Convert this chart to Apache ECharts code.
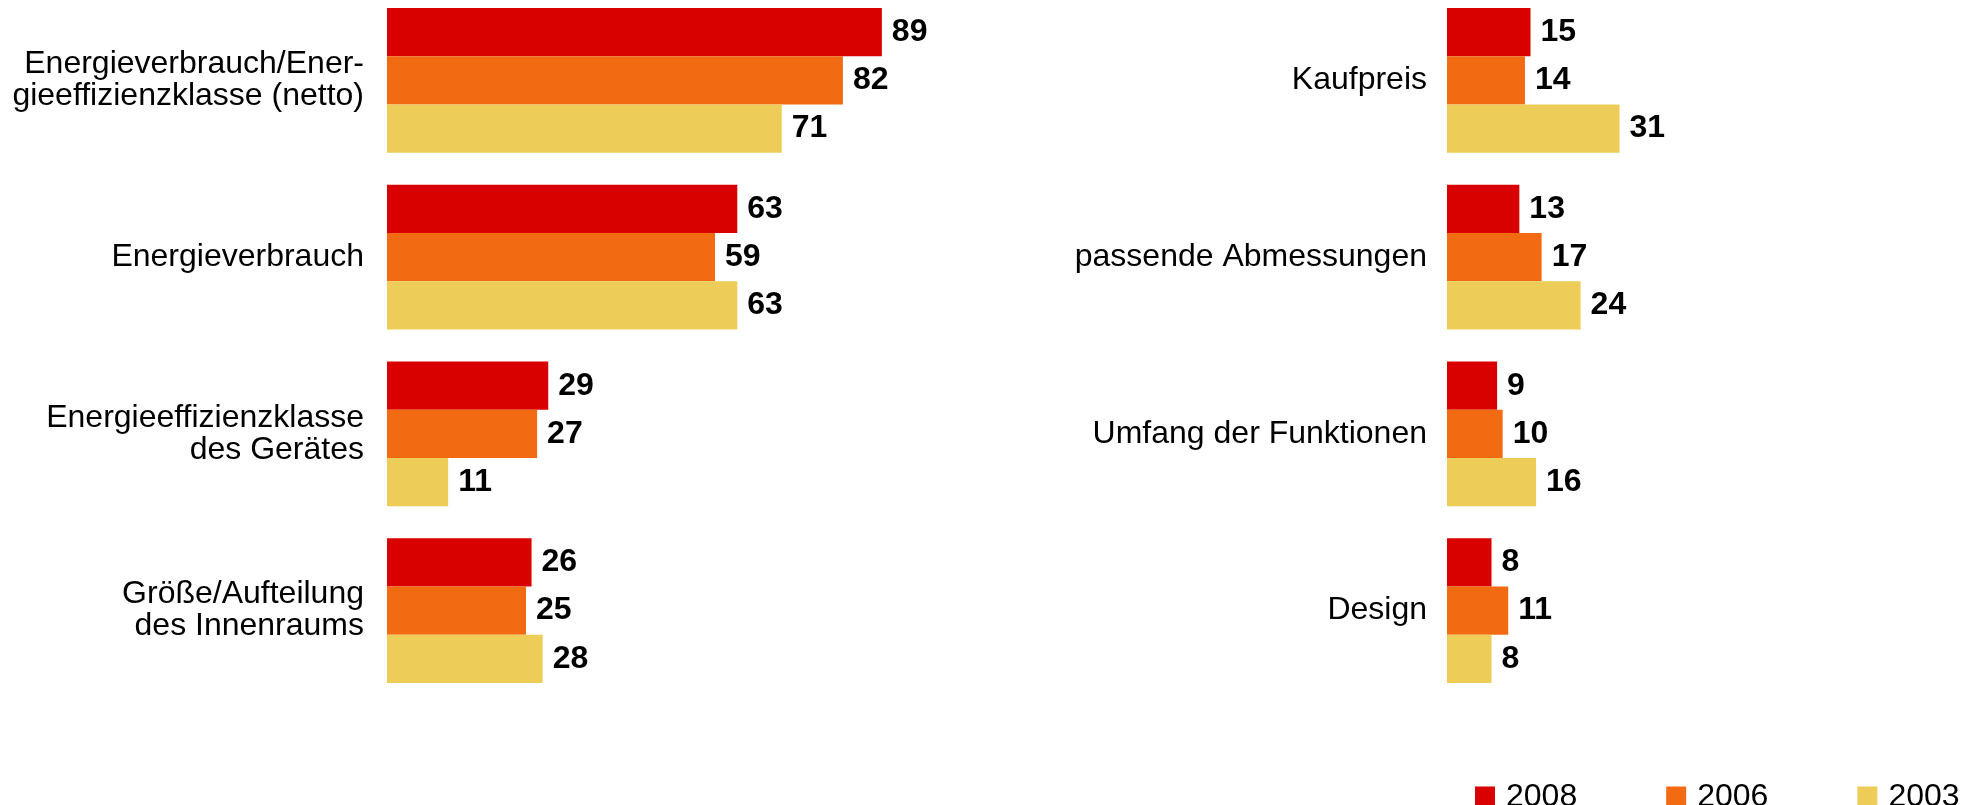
<!DOCTYPE html>
<html>
<head>
<meta charset="utf-8">
<script src="https://cdn.jsdelivr.net/npm/echarts@6/dist/echarts.min.js"></script>
<style>
  html, body { margin: 0; padding: 0; background: #fff; }
  #chart { width: 1984px; height: 805px; }
</style>
</head>
<body>
<div id="chart"></div>
<script>
// Kategorien links und rechts
const catsLeft = ['Energieverbrauch/Ener-\ngieeffizienzklasse (netto)', 'Energieverbrauch', 'Energieeffizienzklasse\ndes Gerätes', 'Größe/Aufteilung\ndes Innenraums']
const catsRight = ['Kaufpreis', 'passende Abmessungen', 'Umfang der Funktionen', 'Design']
const years = ['2008', '2006', '2003']
// Werte je Jahr
const left2008 = [89, 63, 29, 26]
const left2006 = [82, 59, 27, 25]
const left2003 = [71, 63, 11, 28]
const right2008 = [15, 13, 9, 8]
const right2006 = [14, 17, 10, 11]
const right2003 = [31, 24, 16, 8]
const colors = ['#d90000', '#f26b13', '#edcd57']

const font = "'Liberation Sans', Arial, sans-serif"

function makeSeries(name, data, idx, color) {
  return {
    name: name,
    type: 'bar',
    xAxisIndex: idx,
    yAxisIndex: idx,
    data: data,
    barWidth: 48.2,
    barGap: '0%',
    itemStyle: { color: color },
    label: {
      show: true,
      position: 'right',
      distance: 10,
      color: '#000',
      fontWeight: 'bold',
      fontSize: 32,
      fontFamily: font
    },
    silent: true
  }
}

const myChart = echarts.init(document.getElementById('chart'))
myChart.setOption({
  animation: false,
  color: colors,
  grid: [
    { left: 387, top: -8, width: 556, height: 707, outerBoundsMode: 'none' },
    { left: 1447, top: -8, width: 501, height: 707, outerBoundsMode: 'none' }
  ],
  xAxis: [
    { gridIndex: 0, type: 'value', min: 0, max: 100, show: false },
    { gridIndex: 1, type: 'value', min: 0, max: 90, show: false }
  ],
  yAxis: [
    {
      gridIndex: 0,
      type: 'category',
      data: catsLeft,
      inverse: true,
      axisLine: { show: false },
      axisTick: { show: false },
      axisLabel: { margin: 23, fontSize: 32, lineHeight: 32, color: '#000', fontFamily: font, align: 'right' }
    },
    {
      gridIndex: 1,
      type: 'category',
      data: catsRight,
      inverse: true,
      axisLine: { show: false },
      axisTick: { show: false },
      axisLabel: { margin: 20, fontSize: 32, lineHeight: 32, color: '#000', fontFamily: font, align: 'right' }
    }
  ],
  legend: {
    data: years,
    left: 1470,
    top: 776,
    icon: 'rect',
    itemWidth: 20,
    itemHeight: 21,
    itemGap: 89,
    textStyle: { fontSize: 32, color: '#000', fontFamily: font, padding: [0, 0, 0, 6] }
  },
  series: [
    makeSeries(years[0], left2008, 0, colors[0]),
    makeSeries(years[1], left2006, 0, colors[1]),
    makeSeries(years[2], left2003, 0, colors[2]),
    makeSeries(years[0], right2008, 1, colors[0]),
    makeSeries(years[1], right2006, 1, colors[1]),
    makeSeries(years[2], right2003, 1, colors[2])
  ]
})
</script>
</body>
</html>
